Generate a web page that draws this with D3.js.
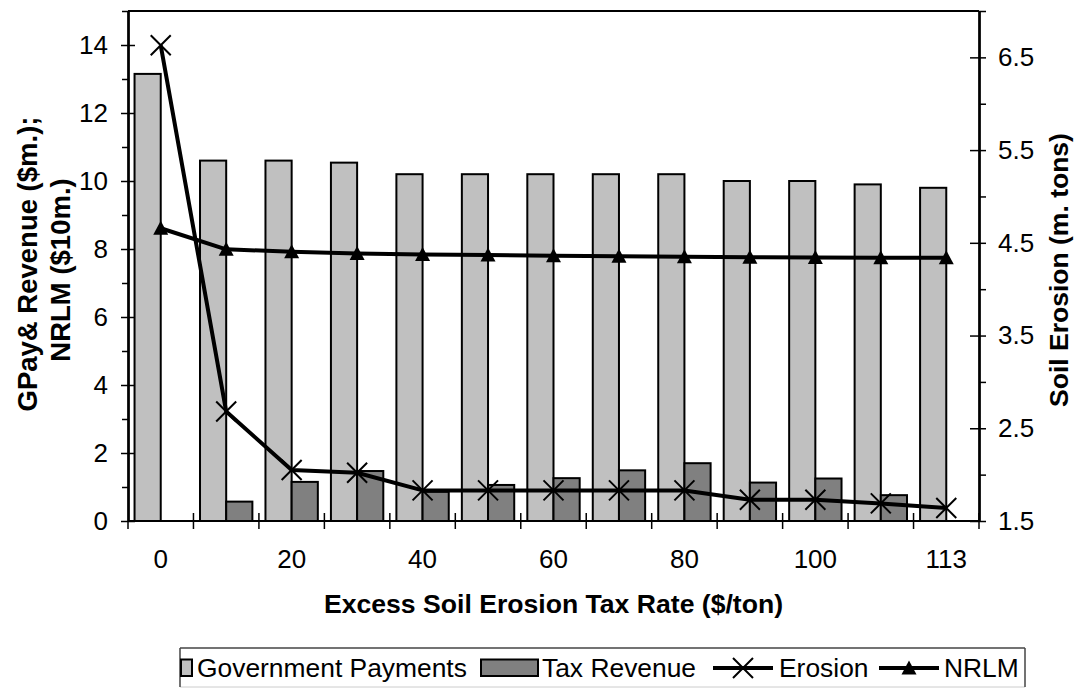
<!DOCTYPE html>
<html>
<head>
<meta charset="utf-8">
<script src="https://cdn.jsdelivr.net/npm/d3@7"></script>
<style>
  html, body { margin: 0; padding: 0; background: #fff; }
  svg { display: block; font-family: "Liberation Sans", Arial, sans-serif; }
</style>
</head>
<body>
<svg id="chart" width="1078" height="688"></svg>
<script>
// ---- data ----
const categories = ["0","10","20","30","40","50","60","70","80","90","100","110","113"];
const shownLabels = ["0","20","40","60","80","100","113"];
const govPayments = [13.15, 10.6, 10.6, 10.54, 10.2, 10.2, 10.2, 10.2, 10.2, 10.0, 10.0, 9.9, 9.8];
const taxRevenue  = [0, 0.57, 1.15, 1.47, 0.86, 1.06, 1.26, 1.49, 1.70, 1.13, 1.25, 0.76, 0];
const erosion     = [6.63, 2.68, 2.05, 2.02, 1.83, 1.83, 1.83, 1.83, 1.83, 1.73, 1.73, 1.69, 1.64];
const nrlm        = [8.61, 7.99, 7.92, 7.87, 7.84, 7.82, 7.80, 7.79, 7.77, 7.76, 7.75, 7.74, 7.74];
const leftTicks   = [0, 2, 4, 6, 8, 10, 12, 14];
const leftMinor   = [1, 3, 5, 7, 9, 11, 13, 15];
const rightTicks  = [1.5, 2.5, 3.5, 4.5, 5.5, 6.5];
const rightMinor  = [2, 3, 4, 5, 6, 7];
const seriesNames = ["Government Payments", "Tax Revenue", "Erosion", "NRLM"];

// ---- layout ----
const L = 128, R = 979, T = 11, B = 521;
const svg = d3.select("#chart");
const FONT = 26;
const LFONT = 26.4;

const x = d3.scaleBand().domain(categories).range([L, R]).paddingInner(0).paddingOuter(0);
const xs = d3.scaleBand().domain(["gov","tax"]).range([0, x.bandwidth()]).paddingInner(0).paddingOuter(0.25);
const yL = d3.scaleLinear().domain([0, 15]).range([B, T]);
const yR = d3.scaleLinear().domain([1.5, 7]).range([B, T]);

// ---- bars ----
const gBars = svg.append("g");
gBars.selectAll("rect.gov").data(categories).join("rect")
  .attr("x", (c) => x(c) + xs("gov"))
  .attr("y", (c, i) => yL(govPayments[i]))
  .attr("width", xs.bandwidth())
  .attr("height", (c, i) => yL(0) - yL(govPayments[i]))
  .attr("fill", "#c0c0c0").attr("stroke", "#000").attr("stroke-width", 2);
gBars.selectAll("rect.tax").data(categories.filter((c, i) => taxRevenue[i] > 0)).join("rect")
  .attr("x", (c) => x(c) + xs("tax"))
  .attr("y", (c) => yL(taxRevenue[categories.indexOf(c)]))
  .attr("width", xs.bandwidth())
  .attr("height", (c) => yL(0) - yL(taxRevenue[categories.indexOf(c)]))
  .attr("fill", "#808080").attr("stroke", "#000").attr("stroke-width", 2);

// ---- plot frame ----
svg.append("line").attr("x1", L).attr("x2", R).attr("y1", T).attr("y2", T).attr("stroke", "#000").attr("stroke-width", 2);

// ---- axes ----
function styleAxis(g) {
  g.select(".domain").attr("stroke", "#000").attr("stroke-width", 2);
  g.selectAll(".tick line").attr("stroke", "#000").attr("stroke-width", 1.5);
  g.selectAll("text").attr("font-size", FONT).attr("fill", "#000").attr("font-family", '"Liberation Sans", Arial, sans-serif');
}
// left
const gl = svg.append("g").attr("transform", `translate(${L},0)`)
  .call(d3.axisLeft(yL).tickValues(leftTicks).tickSize(7).tickPadding(13).tickSizeOuter(0));
styleAxis(gl);
const gl2 = svg.append("g").attr("transform", `translate(${L},0)`)
  .call(d3.axisRight(yL).tickValues(leftTicks).tickSize(7).tickFormat("").tickSizeOuter(0));
styleAxis(gl2);
const gl3 = svg.append("g").attr("transform", `translate(${L},0)`)
  .call(d3.axisLeft(yL).tickValues(leftMinor).tickSize(6).tickFormat("").tickSizeOuter(0));
styleAxis(gl3);
// right
const gr = svg.append("g").attr("transform", `translate(${R},0)`)
  .call(d3.axisRight(yR).tickValues(rightTicks).tickSize(7).tickPadding(12).tickSizeOuter(0));
styleAxis(gr);
const gr2 = svg.append("g").attr("transform", `translate(${R},0)`)
  .call(d3.axisLeft(yR).tickValues(rightTicks).tickSize(9).tickFormat("").tickSizeOuter(0));
styleAxis(gr2);
const gr3 = svg.append("g").attr("transform", `translate(${R},0)`)
  .call(d3.axisRight(yR).tickValues(rightMinor).tickSize(7).tickFormat("").tickSizeOuter(0));
styleAxis(gr3);
// bottom
const bounds = categories.map((c) => x(c)).concat([x(categories[categories.length - 1]) + x.bandwidth()]);
const gx = svg.append("g");
gx.append("line").attr("x1", L).attr("x2", R).attr("y1", B).attr("y2", B).attr("stroke", "#000").attr("stroke-width", 2);
gx.selectAll("line.tk").data(bounds).join("line")
  .attr("x1", (d) => d).attr("x2", (d) => d)
  .attr("y1", (d, i) => (i === 0 ? B : B - 8)).attr("y2", B + 8)
  .attr("stroke", "#000").attr("stroke-width", 1.5);
gx.selectAll("text").data(categories.filter((c) => shownLabels.includes(c))).join("text")
  .attr("x", (c) => x(c) + x.bandwidth() / 2)
  .attr("y", 568)
  .attr("text-anchor", "middle")
  .attr("font-size", FONT)
  .text((c) => c);

// ---- lines ----
const cx = (i) => x(categories[i]) + x.bandwidth() / 2;
const lineE = d3.line().x((d, i) => cx(i)).y((d) => yR(d));
const lineN = d3.line().x((d, i) => cx(i)).y((d) => yL(d));

svg.append("path").datum(erosion).attr("d", lineE)
  .attr("fill", "none").attr("stroke", "#000").attr("stroke-width", 4).attr("stroke-linejoin", "round");
svg.append("g").selectAll("path").data(erosion).join("path")
  .attr("transform", (d, i) => `translate(${cx(i)},${yR(d)})`)
  .attr("d", "M-10,-10L10,10M-10,10L10,-10")
  .attr("stroke", "#000").attr("stroke-width", 2).attr("fill", "none");

svg.append("path").datum(nrlm).attr("d", lineN)
  .attr("fill", "none").attr("stroke", "#000").attr("stroke-width", 4).attr("stroke-linejoin", "round");
svg.append("g").selectAll("path").data(nrlm).join("path")
  .attr("transform", (d, i) => `translate(${cx(i)},${yL(d)})`)
  .attr("d", "M0,-7.5L7.5,6.5L-7.5,6.5Z")
  .attr("fill", "#000");

// ---- axis titles ----
svg.append("text").attr("transform", "translate(37,264) rotate(-90)")
  .attr("text-anchor", "middle").attr("font-weight", "bold").attr("font-size", 27.5).text("GPay& Revenue ($m.);");
svg.append("text").attr("transform", "translate(70,270) rotate(-90)")
  .attr("text-anchor", "middle").attr("font-weight", "bold").attr("font-size", 27.5).text("NRLM ($10m.)");
svg.append("text").attr("transform", "translate(1068,270) rotate(-90)")
  .attr("text-anchor", "middle").attr("font-weight", "bold").attr("font-size", 26.5).text("Soil Erosion (m. tons)");
svg.append("text").attr("x", (L + R) / 2).attr("y", 613)
  .attr("text-anchor", "middle").attr("font-weight", "bold").attr("font-size", 26.6).text("Excess Soil Erosion Tax Rate ($/ton)");

// ---- legend ----
const lg = svg.append("g");
const LX0 = 180, LX1 = 1025, LY0 = 648, LY1 = 687;
lg.append("rect").attr("x", LX0).attr("y", LY0).attr("width", LX1 - LX0).attr("height", LY1 - LY0)
  .attr("fill", "#fff").attr("stroke", "none");
lg.append("line").attr("x1", LX0).attr("x2", LX1).attr("y1", LY0).attr("y2", LY0).attr("stroke", "#444").attr("stroke-width", 1.5);
lg.append("line").attr("x1", LX0).attr("x2", LX1).attr("y1", LY1).attr("y2", LY1).attr("stroke", "#ccc").attr("stroke-width", 1);
lg.append("line").attr("x1", LX0).attr("x2", LX0).attr("y1", LY0).attr("y2", LY1).attr("stroke", "#444").attr("stroke-width", 1.5);
lg.append("line").attr("x1", LX1).attr("x2", LX1).attr("y1", LY0).attr("y2", LY1).attr("stroke", "#444").attr("stroke-width", 1.5);
const ly = 668, tb = 677;
// gov swatch (clipped at the left border)
lg.append("rect").attr("x", 181).attr("y", 659.5).attr("width", 11).attr("height", 16.5)
  .attr("fill", "#c0c0c0").attr("stroke", "#000").attr("stroke-width", 2);
lg.append("text").attr("x", 197).attr("y", tb).attr("font-size", LFONT).text(seriesNames[0]);
// tax swatch
lg.append("rect").attr("x", 481).attr("y", 659.5).attr("width", 57).attr("height", 16.5)
  .attr("fill", "#808080").attr("stroke", "#000").attr("stroke-width", 2);
lg.append("text").attr("x", 542).attr("y", tb).attr("font-size", LFONT).text(seriesNames[1]);
// erosion
lg.append("line").attr("x1", 713).attr("x2", 773).attr("y1", ly).attr("y2", ly).attr("stroke", "#000").attr("stroke-width", 4);
lg.append("path").attr("transform", `translate(743,${ly})`).attr("d", "M-10,-10L10,10M-10,10L10,-10")
  .attr("stroke", "#000").attr("stroke-width", 2);
lg.append("text").attr("x", 779).attr("y", tb).attr("font-size", LFONT).text(seriesNames[2]);
// nrlm
lg.append("line").attr("x1", 879).attr("x2", 939).attr("y1", ly).attr("y2", ly).attr("stroke", "#000").attr("stroke-width", 4);
lg.append("path").attr("transform", `translate(909,${ly})`).attr("d", "M0,-7.5L7.5,6.5L-7.5,6.5Z").attr("fill", "#000");
lg.append("text").attr("x", 944).attr("y", tb).attr("font-size", LFONT).text(seriesNames[3]);
</script>
</body>
</html>
